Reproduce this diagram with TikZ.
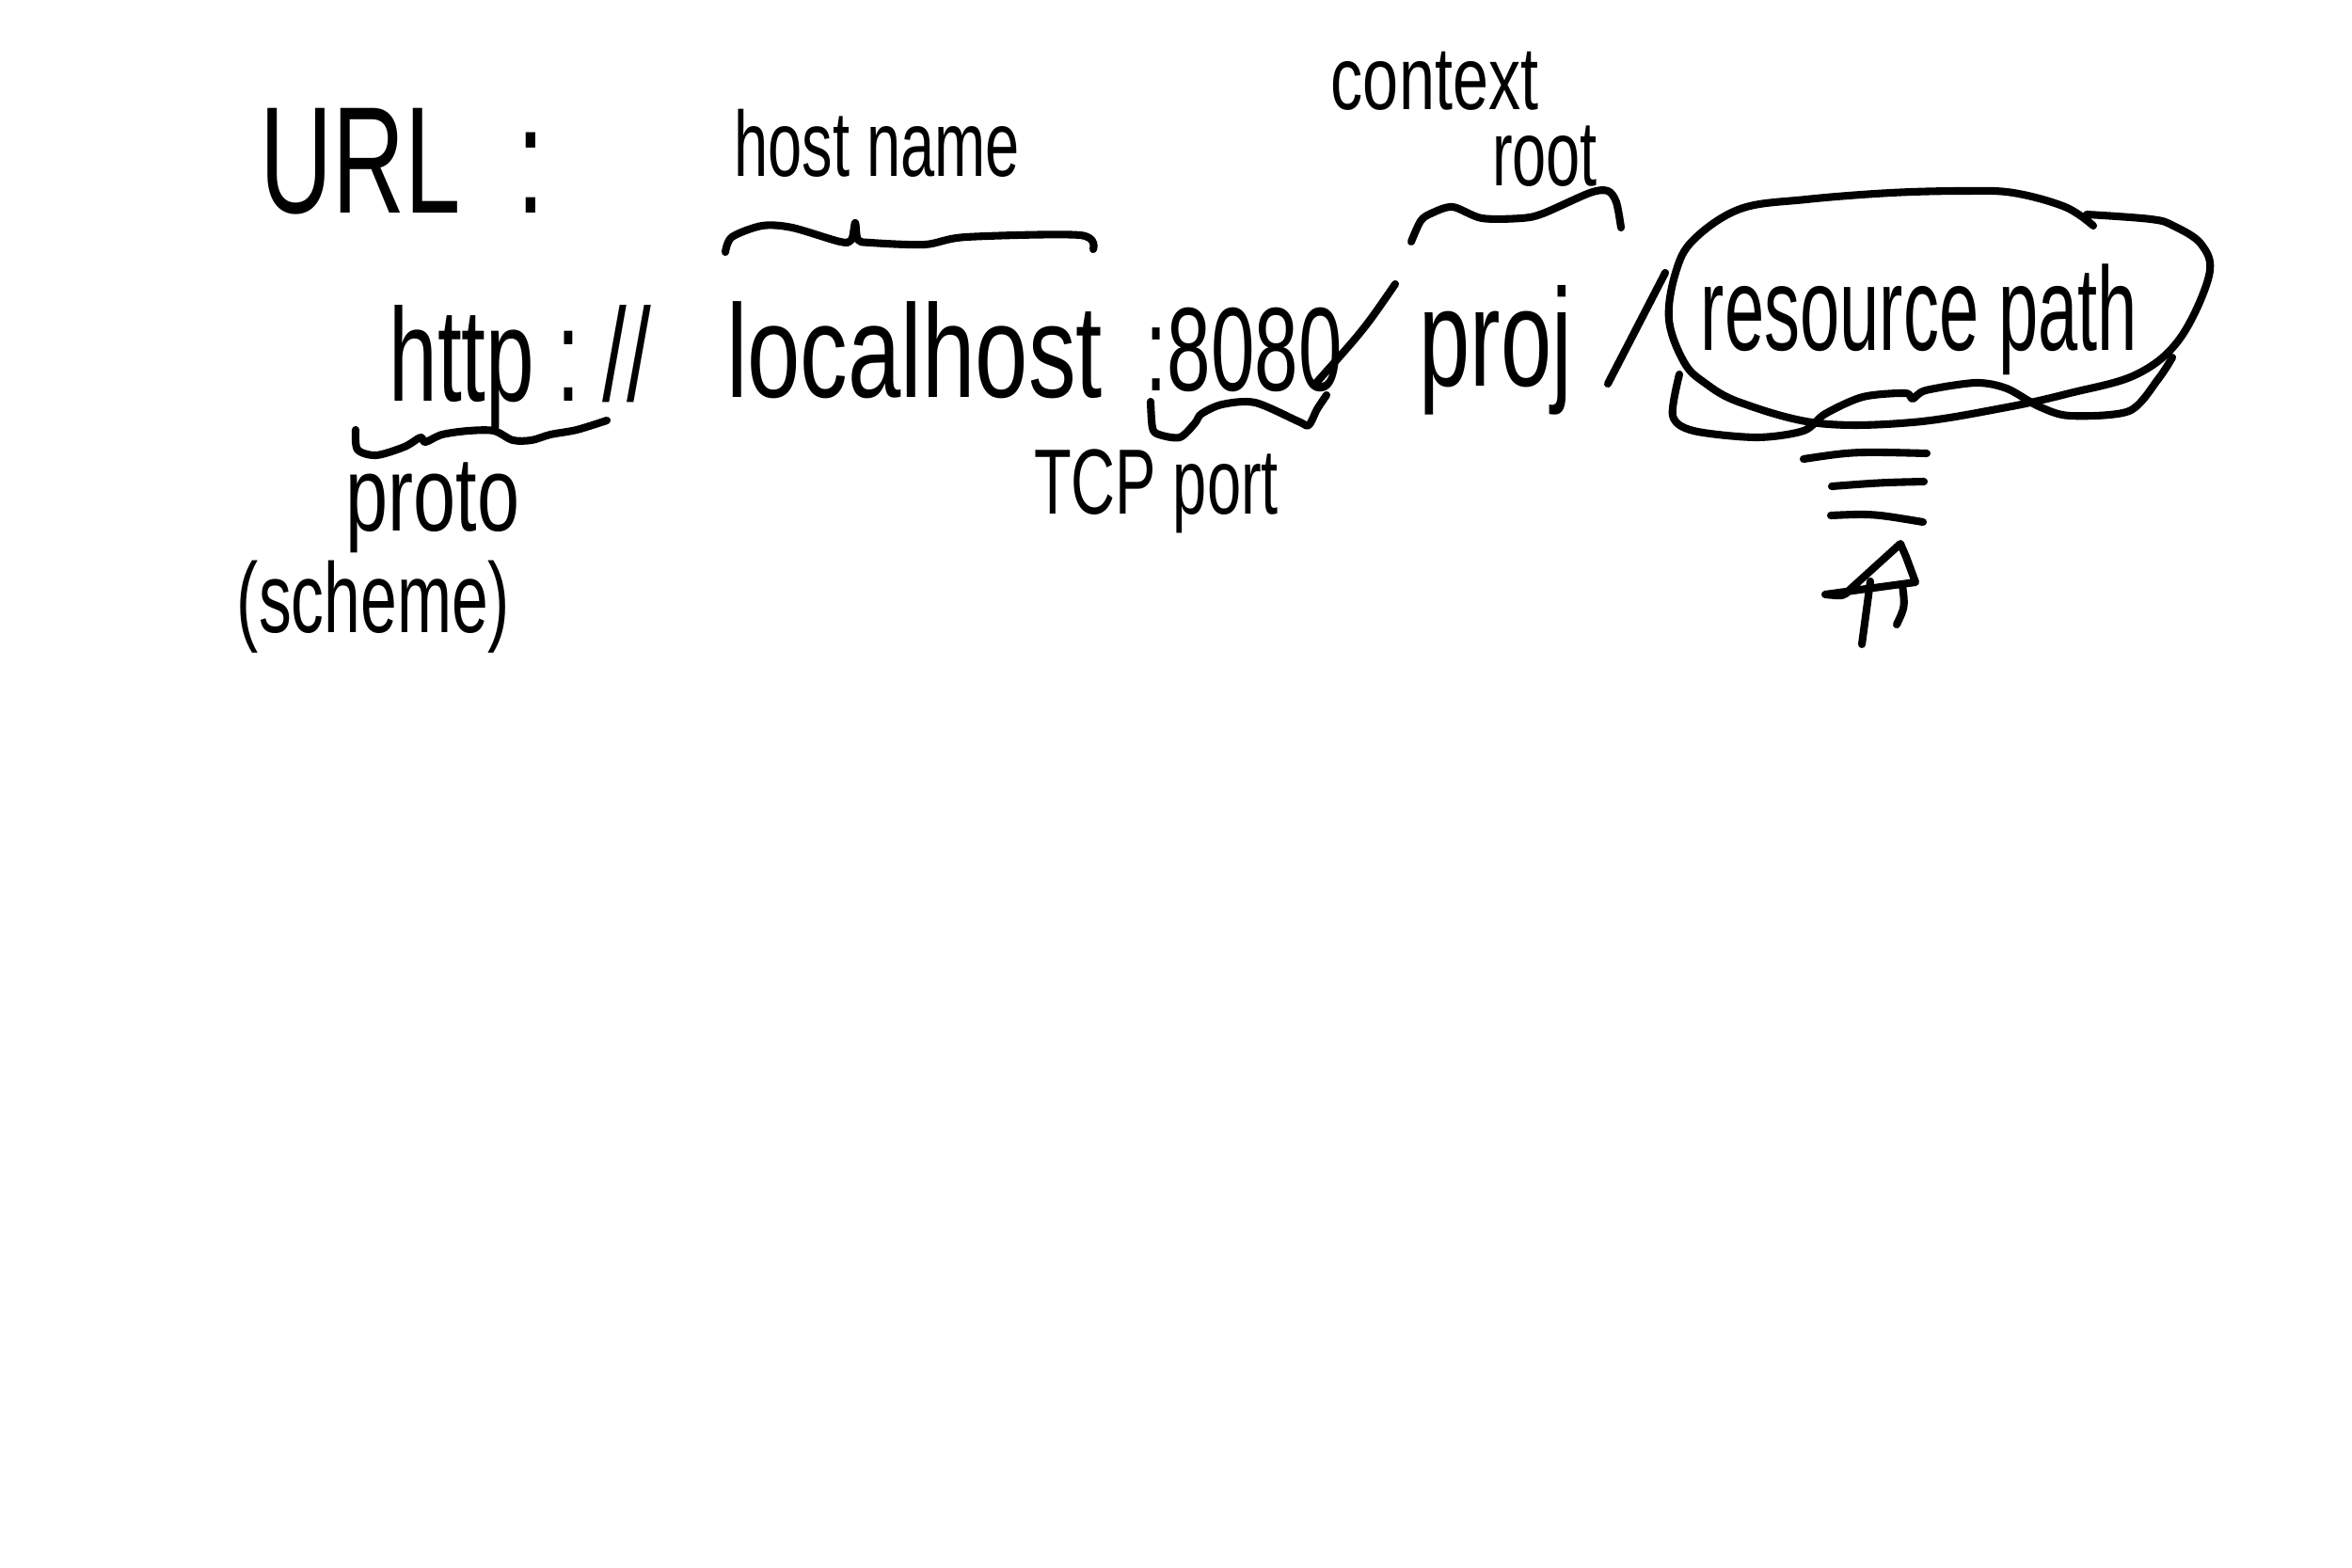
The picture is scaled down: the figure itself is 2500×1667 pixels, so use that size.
\documentclass[tikz,border=0pt]{standalone}
\usepackage{fontspec}
\setmainfont{Liberation Sans}[FakeStretch=0.66]
\newfontfamily\hwn{Liberation Sans}[FakeStretch=0.6]
\newfontfamily\hww{Liberation Sans}[FakeStretch=0.72]
\begin{document}
\begin{tikzpicture}[x=0.01cm,y=-0.01cm,
  ink/.style={line width=2.3pt,line cap=round,line join=round},
  hw/.style={inner sep=0pt,font=\fontsize{#1}{#1}\selectfont},
  hw/.default=30]
\useasboundingbox[fill=white] (0,0) rectangle (2500,1667);
% texts
\node[hw=46] (url) at (428,172) {URL\ \ :};
\node[hw=28] (hostname) at (932,152) {host name};
\node[hw=27] (context) at (1525,86) {\hww context};
\node[hw=28] (root) at (1642,166) {root};
\node[hw=40] (http) at (553,390) {http\,:\,//};
\node[hw=40] (localhost) at (972,372) {\hww localhost};
\node[hw=36] (port) at (1322,372) {:8080};
\node[hw=42] (proj) at (1590,372) {proj};
\node[hw=36] (resource) at (2040,340) {\hwn resource path};
\node[hw=32] (proto) at (460,540) {\hww proto};
\node[hw=30] (scheme) at (397,645) {(scheme)};
\node[hw=28] (tcp) at (1229,522) {TCP port};
% slashes
\draw[ink] (1483,302) .. controls (1450,350) .. (1399,407);
\draw[ink] (1770,290) -- (1709,408);
% braces
\draw[ink] plot[smooth,tension=0.5] coordinates {(771,268) (778,252) (810,240) (842,242) (893,257) (905,255) (909,237) (912,255) (925,258) (983,260) (1027,252) (1148,250) (1162,265)};
\draw[ink] plot[smooth,tension=0.5] coordinates {(1500,257) (1510,235) (1521,227) (1544,220) (1575,232) (1617,232) (1640,227) (1690,205) (1709,203) (1718,215) (1723,242)};
\draw[ink] plot[smooth,tension=0.5] coordinates {(378,457) (380,478) (400,484) (430,475) (447,465) (452,470) (470,462) (498,458) (525,458) (545,468) (565,468) (585,462) (613,457) (645,447)};
\draw[ink] plot[smooth,tension=0.5] coordinates {(1223,427) (1225,455) (1232,462) (1254,465) (1270,450) (1277,440) (1299,430) (1334,428) (1380,448) (1391,452) (1400,435) (1410,420)};
% blob around resource path
\draw[ink] plot[smooth,tension=0.6] coordinates {(2225,240) (2195,220) (2140,205) (2088,203) (2010,205) (1920,212) (1850,222) (1800,255) (1781,290) (1774,340) (1790,385) (1812,407) (1850,428) (1933,450) (2033,449) (2133,433) (2200,418) (2271,398) (2317,360) (2348,293) (2340,260) (2310,240) (2286,233) (2218,228)};
\draw[ink] plot[smooth,tension=0.5] coordinates {(1785,398) (1778,442) (1800,458) (1867,465) (1917,458) (1940,440) (1980,422) (2025,418) (2033,424) (2047,415) (2100,407) (2133,413) (2167,432) (2200,442) (2263,437) (2294,403) (2309,380)};
% lines and arrow below
\draw[ink] (1917,488) .. controls (1970,480) .. (2048,482);
\draw[ink] (1947,517) .. controls (2000,513) .. (2045,512);
\draw[ink] (1946,548) .. controls (1990,546) .. (2044,555);
\draw[ink] (1940,632) .. controls (1960,634) .. (1966,627) -- (2020,578) -- (2026,592) -- (2036,619) -- cycle;
\draw[ink] (1988,618) -- (1979,685);
\draw[ink] (2022,622) .. controls (2025,645) .. (2016,664);
\end{tikzpicture}
\end{document}
